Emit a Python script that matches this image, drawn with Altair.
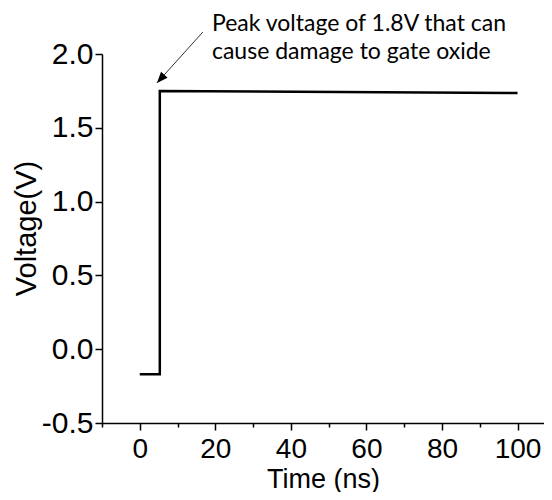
import altair as alt
import pandas as pd

# Data
time_ns = [0, 5.3, 5.3, 100]
voltage = [-0.17, -0.17, 1.75, 1.735]

x_tick_values = [-10, 0, 10, 20, 30, 40, 50, 60, 70, 80, 90, 100]
y_tick_values = [-0.5, -0.25, 0.0, 0.25, 0.5, 0.75, 1.0, 1.25, 1.5, 1.75, 2.0]

note_lines = ["Peak voltage of 1.8V that can", "cause damage to gate oxide"]
note_x = [19.1, 19.1]
note_y = [2.154, 1.966]

arrow_x = [16.7, 4.55]
arrow_y = [2.149, 1.804]

df = pd.DataFrame({"t": time_ns, "v": voltage})
notes = pd.DataFrame({"t": note_x, "v": note_y, "txt": note_lines})
arrow = pd.DataFrame({"t": arrow_x, "v": arrow_y, "o": [0, 1]})
head = arrow.iloc[[1]]

xscale = alt.Scale(domain=[-10, 107], nice=False, zero=False)
yscale = alt.Scale(domain=[-0.5, 2.0], nice=False, zero=False)

xaxis = alt.Axis(
    values=x_tick_values,
    labelExpr="datum.value % 20 === 0 ? datum.label : ''",
    tickSize={"condition": {"test": "datum.value % 20 === 0", "value": 7}, "value": 4},
    title="Time (ns)",
    titleBaseline="alphabetic",
    titleY=64,
    labelPadding=5,
    labelFontSize=28,
    titleFontSize=27,
    grid=False,
)
yaxis = alt.Axis(
    values=y_tick_values,
    labelExpr="abs(datum.value*2 - round(datum.value*2)) < 1e-6 ? replace(format(datum.value, '.1f'), '\u2212', '-') : ''",
    tickSize={"condition": {"test": "abs(datum.value*2 - round(datum.value*2)) < 1e-6", "value": 7}, "value": 4},
    title="Voltage(V)",
    titleBaseline="alphabetic",
    titleX=-67,
    titleY=174,
    labelPadding=2,
    labelFontSize=30,
    titleFontSize=29,
    grid=False,
)

line = alt.Chart(df).mark_line(color="black", strokeWidth=2.5, clip=False).encode(
    x=alt.X("t:Q", scale=xscale, axis=xaxis),
    y=alt.Y("v:Q", scale=yscale, axis=yaxis),
)

arrow_line = alt.Chart(arrow).mark_line(color="#333333", strokeWidth=1).encode(
    x=alt.X("t:Q", scale=xscale),
    y=alt.Y("v:Q", scale=yscale),
    order="o:Q",
)

arrow_head = alt.Chart(head).mark_point(
    shape="M0,0 L-0.4,1 L0.4,1 Z",
    filled=True,
    color="black",
    opacity=1,
    size=480,
    angle=222,
).encode(
    x=alt.X("t:Q", scale=xscale),
    y=alt.Y("v:Q", scale=yscale),
)

note = alt.Chart(notes).mark_text(
    align="left", baseline="alphabetic", font="Lato", fontSize=23, color="black"
).encode(
    x=alt.X("t:Q", scale=xscale),
    y=alt.Y("v:Q", scale=yscale),
    text="txt:N",
)

chart = alt.layer(line, arrow_line, arrow_head, note).properties(
    width=442,
    height=369,
    autosize=alt.AutoSizeParams(type="none"),
    padding={"left": 94, "top": 46, "right": 0, "bottom": 69},
).configure_view(stroke=None).configure_axis(
    domainColor="black",
    domainWidth=1.5,
    tickColor="black",
    tickWidth=1.5,
    labelFont="Liberation Sans",
    labelColor="black",
    titleFont="Liberation Sans",
    titleFontWeight="normal",
    titleColor="black",
)

chart.save("out.html", embed_options={"renderer": "svg", "actions": False})
